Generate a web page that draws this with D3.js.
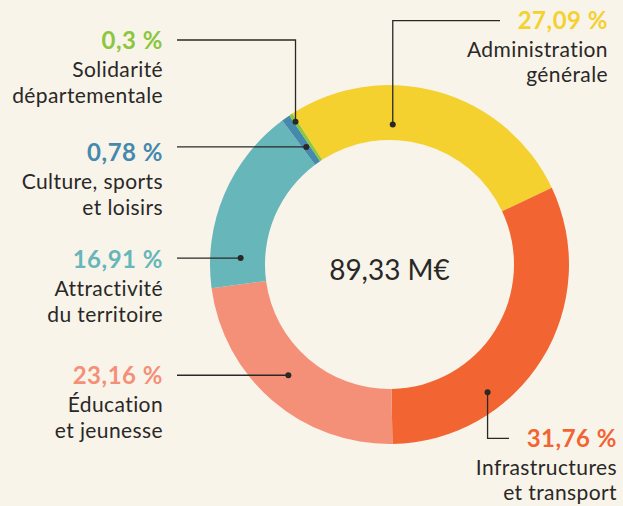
<!DOCTYPE html>
<meta charset="utf-8">
<script src="https://d3js.org/d3.v7.min.js"></script>
<style>
  body { margin: 0; background: #f8f4ea; }
  text { font-family: Lato, "Open Sans", sans-serif; }
</style>
<div id="donut"></div>
<script>
    const width = 623, height = 506;

    // data
    const categories = ["Administration générale", "Infrastructures et transport", "Éducation et jeunesse",
                        "Attractivité du territoire", "Culture, sports et loisirs", "Solidarité départementale"];
    const values = [27.09, 31.76, 23.16, 16.91, 0.78, 0.3];
    const labelLines = [["Administration", "générale"], ["Infrastructures", "et transport"], ["Éducation", "et jeunesse"],
                        ["Attractivité", "du territoire"], ["Culture, sports", "et loisirs"], ["Solidarité", "départementale"]];
    const total = "89,33 M€";
    const colors = ["#f4d12f", "#f26533", "#f59078", "#67b6b9", "#4589ad", "#8cc63e"];

    // label layout: where the dot sits in the slice (t along angle, r radius), text anchor, leader shape
    const layout = [
        {t: 0.35, r: 140, x: 608, y: 28.5, side: "top", lineY: 20.7, lineX: 500},
        {t: 0.68, r: 161, x: 617, y: 446.5, side: "bottom", lineY: 438.3, lineX: 509},
        {t: 0.52, r: 150, x: 163, y: 384, side: "left", lineX: 177},
        {t: 0.165, r: 149, x: 163, y: 268, side: "left", lineX: 177},
        {t: 0.5, r: 144, x: 163, y: 161, side: "left", lineX: 177},
        {t: 0.5, r: 171, x: 163, y: 49, side: "leftTop", lineY: 40, lineX: 177}
    ];

    const cx = 389.5, cy = 264.5, rOuter = 179.5, rInner = 124.5;
    const start = -32.8 * Math.PI / 180;

    const svg = d3.select("#donut")
        .append("svg")
            .attr("width", width)
            .attr("height", height)
            .style("background", "#f8f4ea");

    const g = svg.append("g")
        .attr("transform", `translate(${cx},${cy})`);

    const pie = d3.pie()
        .sort(null)
        .startAngle(start)
        .endAngle(start + 2 * Math.PI);

    const arcs = pie(values);

    const arc = d3.arc()
        .innerRadius(rInner)
        .outerRadius(rOuter);

    g.selectAll("path")
        .data(arcs)
        .join("path")
        .attr("d", arc)
        .attr("fill", (d, i) => colors[i]);

    g.append("text")
        .attr("text-anchor", "middle")
        .attr("y", 15.5)
        .attr("font-size", 28)
        .attr("fill", "#2a2826")
        .text(total);

    const fmt = v => String(v).replace(".", ",") + " %";

    arcs.forEach(function(d, i) {
        const L = layout[i];
        const a = d.startAngle + L.t * (d.endAngle - d.startAngle);
        const px = cx + Math.sin(a) * L.r, py = cy - Math.cos(a) * L.r;

        let pts;
        if (L.side === "left") pts = [[L.lineX, py], [px, py]];
        else if (L.side === "leftTop") pts = [[L.lineX, L.lineY], [px, L.lineY], [px, py]];
        else pts = [[px, py], [px, L.lineY], [L.lineX, L.lineY]];

        svg.append("path")
            .attr("d", d3.line()(pts))
            .attr("fill", "none")
            .attr("stroke", "#2a2826")
            .attr("stroke-width", 1.3);
        svg.append("circle")
            .attr("cx", px)
            .attr("cy", py)
            .attr("r", 3)
            .attr("fill", "#2a2826");

        const t = svg.append("g").attr("text-anchor", "end");
        t.append("text")
            .attr("x", L.x)
            .attr("y", L.y)
            .attr("font-size", 24)
            .attr("font-weight", 700)
            .attr("letter-spacing", 0.5)
            .attr("fill", colors[i])
            .text(fmt(values[i]));
        labelLines[i].forEach(function(s, j) {
            t.append("text")
                .attr("x", L.x)
                .attr("y", L.y + 28 + j * 25.5)
                .attr("font-size", 21)
                .attr("letter-spacing", 0.4)
                .attr("fill", "#2a2826")
                .text(s);
        });
    });
</script>
